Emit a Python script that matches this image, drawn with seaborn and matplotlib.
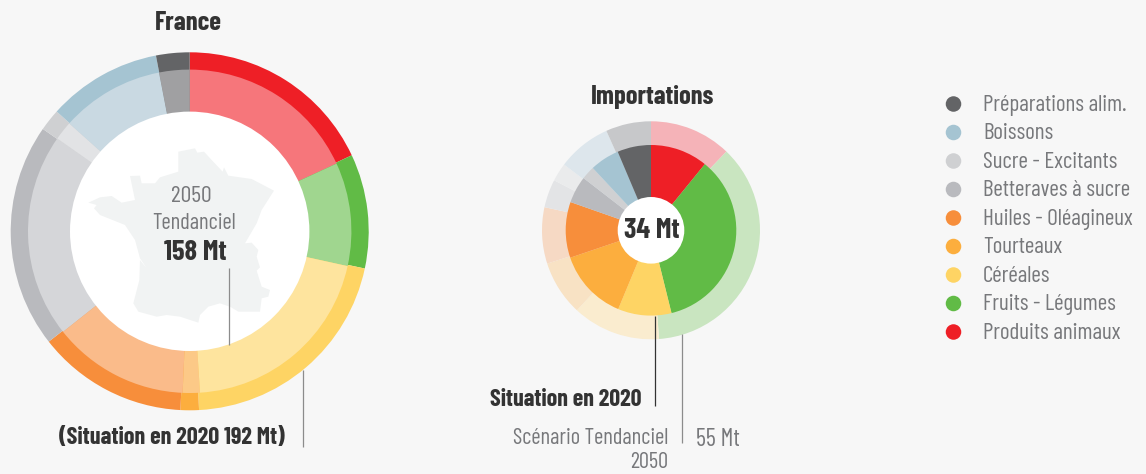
import matplotlib
matplotlib.use("Agg")
import matplotlib.pyplot as plt
from matplotlib.patches import Circle, Polygon
import seaborn as sns
import pandas as pd

W, H = 1146, 474
BG = "#f7f7f7"
DARK = "#333333"
GREY = "#77787b"
FONT = "Barlow Condensed"

# clockwise from the top
pie_categories = ["Produits animaux", "Fruits - Légumes", "Céréales", "Tourteaux",
                  "Huiles - Oléagineux", "Betteraves à sucre", "Sucre - Excitants",
                  "Boissons", "Préparations alim."]
france_2020 = [34.6, 19.8, 40.0, 3.2, 26.1, 38.9, 3.8, 19.8, 5.8]
france_2050 = [28.6, 16.3, 32.4, 2.7, 21.5, 32.2, 3.0, 16.3, 4.8]
import_2050 = [6.7, 20.2, 7.2, 4.5, 4.6, 2.3, 1.5, 4.4, 3.7]
import_2020 = [3.7, 12.0, 3.45, 4.6, 3.6, 1.74, 0.87, 1.9, 2.17]

base_colors = ["#ee1f26", "#61bb46", "#fed464", "#fcae3e", "#f78e3b",
               "#b9babe", "#cfd0d2", "#a5c4d2", "#636466"]
france_inner_colors = ["#f6767b", "#a0d68f", "#fee49e", "#fcc987", "#fabb8a",
                       "#d5d6d9", "#e2e3e5", "#c9d9e2", "#a0a0a2"]
import_outer_colors = ["#f5b3b8", "#c9e5c0", "#faeccf", "#f8e2c4", "#f6d9c4",
                       "#e3e4e6", "#eaebec", "#dde6ec", "#c7c8ca"]

legend_order = pie_categories[::-1]

map_x = [295, 345, 352, 372, 395, 428, 432, 445, 515, 582, 545, 530, 495, 515, 535, 530, 540, 530,
         545, 570, 565, 545, 540, 475, 450, 420, 385, 360, 355, 300, 260, 230, 175, 160, 178, 180,
         200, 180, 165, 135, 60, 42, 50, 25, 60, 95, 125, 165, 150, 180, 185, 225, 240, 295]
map_y = [35, 25, 38, 35, 60, 95, 82, 107, 117, 152, 210, 250, 310, 308, 330, 350, 382, 392,
         440, 450, 470, 475, 515, 515, 500, 490, 500, 525, 548, 530, 525, 530, 515, 490, 420, 360,
         385, 355, 300, 255, 225, 205, 195, 188, 172, 168, 188, 180, 108, 107, 130, 130, 112, 95]

sns.set_theme(style="white", rc={"figure.facecolor": BG, "axes.facecolor": BG})
plt.rcParams["font.family"] = [FONT, "Roboto", "DejaVu Sans"]

fig = plt.figure(figsize=(W / 100, H / 100), dpi=100)
ax = fig.add_axes([0, 0, 1, 1])


def ring(values, colors, cx, cy, radius, width=None):
    props = {"linewidth": 0}
    if width is not None:
        props["width"] = width
    ax.pie(values, colors=colors, center=(cx, H - cy), radius=radius, startangle=90,
           counterclock=False, wedgeprops=props)


def label(x, y, s, size, color=GREY, weight="normal", ha="center"):
    ax.text(x, H - y, s, fontsize=size, color=color, fontweight=weight, ha=ha, va="center")


def vline(x, y0, y1, color="#8c8c8c"):
    ax.plot([x, x], [H - y0, H - y1], color=color, lw=0.9, solid_capstyle="butt")


# France
fx, fy = 189.7, 231.3
ring(france_2020, base_colors, fx, fy, 179)
ring(france_2050, france_inner_colors, fx, fy, 161.7)
ax.add_patch(Circle((fx, H - fy), 119.7, color="white", lw=0))
ax.add_patch(Polygon([(80 + x / 3, H - (140 + y / 3)) for x, y in zip(map_x, map_y)],
                     closed=True, color="#f1f3f3", lw=0))

# Importations
ix, iy = 651, 230.3
ring(import_2050, import_outer_colors, ix, iy, 109)
ring(import_2020, base_colors, ix, iy, 85.3)
ax.add_patch(Circle((ix, H - iy), 33.3, color="white", lw=0))

ax.set_xlim(0, W)
ax.set_ylim(0, H)
ax.set_aspect("auto")
ax.axis("off")

vline(229, 268, 345)
vline(303.3, 370, 447)
vline(655, 316, 405.5, DARK)
vline(682, 334, 443)

label(188.5, 22.5, "France", 19.2, DARK, "bold")
label(653, 96.5, "Importations", 19, DARK, "bold")
label(191.5, 196, "2050", 17.2)
label(194, 223, "Tendanciel", 16.2)
label(195.5, 252, "158 Mt", 20.5, DARK, "bold")
label(171.5, 438, "(Situation en 2020 192 Mt)", 17.4, DARK, "bold")
label(651.5, 230.5, "34 Mt", 20.5, DARK, "bold")
label(642, 400, "Situation en 2020", 17.3, DARK, "bold", ha="right")
label(668, 439, "Scénario Tendanciel", 16.2, ha="right")
label(668, 463, "2050", 16.2, ha="right")
label(696, 439, "55 Mt", 17.5, ha="left")

# legend built as a small scatter with one row per category
leg = fig.add_axes([945 / W, 1 - 346.25 / H, 201 / W, 256.5 / H], facecolor="none")
leg_df = pd.DataFrame({"x": [0] * len(legend_order), "category": legend_order})
sns.scatterplot(data=leg_df, x="x", y="category", hue="category", hue_order=legend_order,
                palette=dict(zip(pie_categories, base_colors)), s=125, linewidth=0,
                legend=False, ax=leg)
leg.set_xlim(-8.5, 192.5)
leg.set_ylim(8.5, -0.5)
leg.axis("off")
for i, name in enumerate(legend_order):
    leg.text(29.5, i + 0.04, name, fontsize=16.7, color=GREY, va="center", ha="left")

fig.savefig("out.png", dpi=100, facecolor=BG)
